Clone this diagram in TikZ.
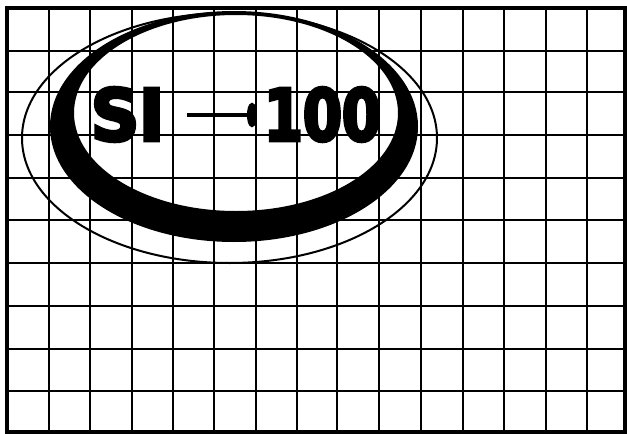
\documentclass[tikz,border=0pt]{standalone}
\usepackage{fontspec}
\usepackage{graphicx}
\usetikzlibrary{arrows.meta}
\newfontfamily\heavyfont{DejaVu Sans Condensed}[BoldFeatures={FakeBold=5}]
\begin{document}
\begin{tikzpicture}[x=1pt,y=-1pt,
  gridline/.style={line width=2.8pt, line cap=rect, black},
  frameline/.style={line width=3.2pt, black},
  ringfill/.style={fill=black, even odd rule},
  thinring/.style={line width=2pt, black},
  logotext/.style={inner sep=0pt, outer sep=0pt, text=black},
  logoarrow/.style={line width=4pt, -{Ellipse[length=10pt,width=24pt]}}]
\useasboundingbox (0,0) rectangle (627,434);
\fill[white] (0,0) rectangle (627,434);
% grid
\foreach \x in {49,90,132,173,214,256,297,337,379,421,463,504,546,587}
  \draw[gridline] (\x,8) -- (\x,432);
\foreach \y in {51,92,135,178,220,263,306,349,391}
  \draw[gridline] (7,\y) -- (625,\y);
\draw[frameline] (7,8) rectangle (625,432);
% thin ellipse
\draw[thinring] (229.5,138) ellipse [x radius=207.5, y radius=125];
% thick ring
\fill[ringfill] (234,126.5) ellipse [x radius=184, y radius=115.5]
                (236,113) ellipse [x radius=162, y radius=98];
% logo text
\node[logotext] (si) at (127.5,114.5) {\resizebox{73pt}{53pt}{\heavyfont\bfseries SI}};
\node[logotext] (hundred) at (322.5,114.5) {\resizebox{117pt}{53pt}{\heavyfont\bfseries 100}};
\draw[logoarrow] ([xshift=23pt,yshift=-0.5pt]si.east) -- ([xshift=-7pt,yshift=-0.5pt]hundred.west);
\end{tikzpicture}
\end{document}
